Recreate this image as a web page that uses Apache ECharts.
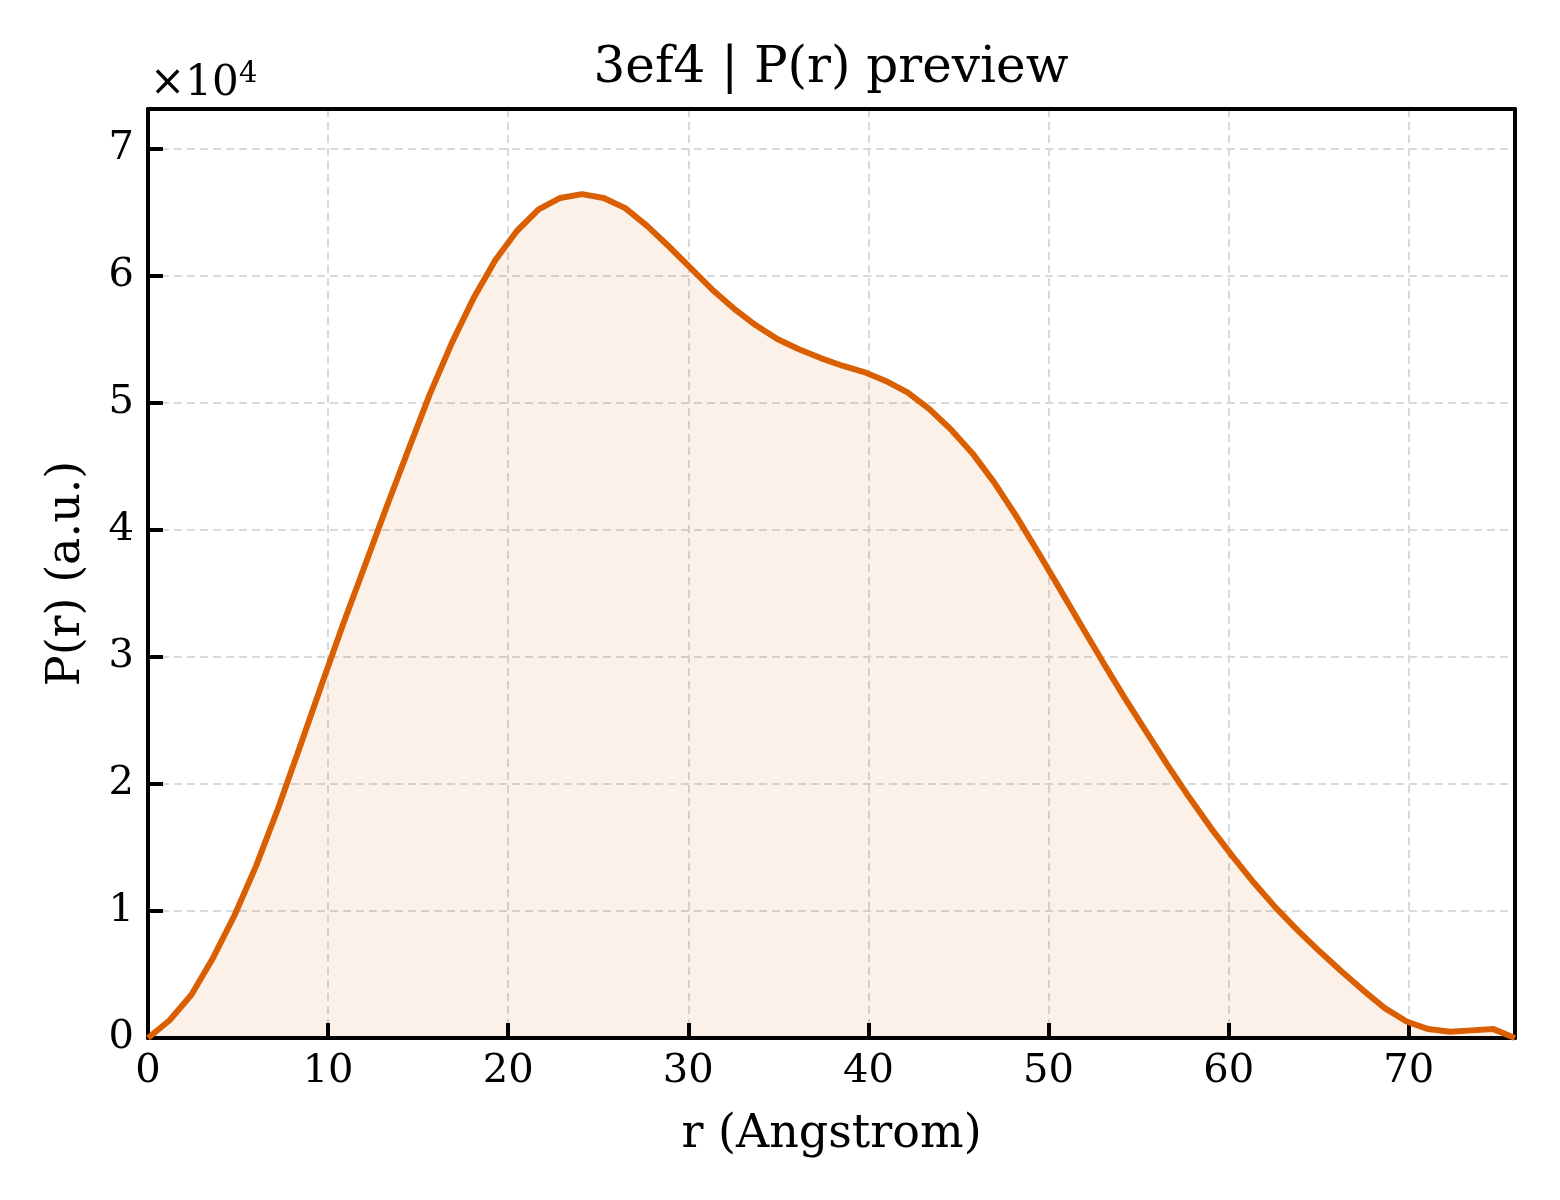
<!DOCTYPE html>
<html>
<head>
<meta charset="utf-8">
<title>3ef4 | P(r) preview</title>
<script src="https://cdn.jsdelivr.net/npm/echarts@6/dist/echarts.min.js"></script>
<style>
  html, body { margin: 0; padding: 0; background: #fff; }
  #main { width: 1560px; height: 1200px; }
</style>
</head>
<body>
<div id="main"></div>
<script>
// r grid (Angstrom)
var rValues = [
	0, 1.20, 2.41, 3.61, 4.82, 6.02, 7.23, 8.43, 9.64, 10.84,
	12.05, 13.25, 14.46, 15.66, 16.87, 18.07, 19.28, 20.48, 21.69, 22.89,
	24.10, 25.30, 26.50, 27.71, 28.91, 30.12, 31.32, 32.53, 33.73, 34.94,
	36.14, 37.35, 38.55, 39.76, 40.96, 42.17, 43.37, 44.57, 45.78, 46.99,
	48.19, 49.39, 50.60, 51.80, 53.01, 54.21, 55.42, 56.62, 57.83, 59.03,
	60.24, 61.44, 62.65, 63.85, 65.06, 66.26, 67.47, 68.67, 69.88, 71.08,
	72.29, 73.49, 74.70, 75.90
];

// P(r) in arbitrary units
var prValues = [
	0, 1400, 3400, 6300, 9700, 13600, 18100, 22900, 27800, 32600,
	37200, 41800, 46300, 50700, 54700, 58200, 61200, 63500, 65200, 66100,
	66400, 66100, 65300, 63900, 62300, 60600, 58900, 57400, 56100, 55000,
	54200, 53500, 52900, 52400, 51700, 50800, 49500, 47900, 46000, 43700,
	41100, 38300, 35400, 32500, 29600, 26800, 24100, 21450, 18900, 16500,
	14250, 12150, 10200, 8450, 6800, 5250, 3750, 2350, 1300, 700,
	500, 600, 700, 0
];

var xTicks = [0, 10, 20, 30, 40, 50, 60, 70];
var yTicks = [0, 1, 2, 3, 4, 5, 6, 7];

var rMax = 75.9;
var pMax = 73100;

var serif = 'DejaVu Serif';

var points = [];
for (var i = 0; i < rValues.length; i++) {
	points.push([rValues[i], prValues[i]]);
}

var myChart = echarts.init(document.getElementById('main'));

// dashed grid lines live on the top/right axes so they sit under the ticks
var gridDash = {
	show: true,
	showMinLine: false,
	showMaxLine: false,
	lineStyle: { color: '#d9d9d9', width: 2, type: [8, 5] }
};
var frameLine = { show: true, onZero: false, lineStyle: { color: '#000', width: 4 } };
var tickIn = { show: true, inside: true, length: 15, lineStyle: { color: '#000', width: 4 } };

var option = {
	backgroundColor: '#fff',
	animation: false,
	grid: { left: 148, right: 45, top: 109, bottom: 162, containLabel: false },
	graphic: [
		{
			type: 'text', x: 831, y: 69,
			style: { text: '3ef4 | P(r) preview', font: '50px "' + serif + '"',
				fill: '#000', textAlign: 'center', textVerticalAlign: 'middle' }
		},
		{
			type: 'text', x: 150, y: 84,
			style: { text: '×10', font: '42px "' + serif + '"',
				fill: '#000', textAlign: 'left', textVerticalAlign: 'middle' }
		},
		{
			type: 'text', x: 239, y: 74,
			style: { text: '4', font: '29px "' + serif + '"',
				fill: '#000', textAlign: 'left', textVerticalAlign: 'middle' }
		}
	],
	xAxis: [
		{
			type: 'value',
			min: 0,
			max: rMax,
			interval: 10,
			z: 3,
			name: 'r (Angstrom)',
			nameLocation: 'middle',
			nameGap: 74,
			nameTextStyle: { fontFamily: serif, fontSize: 46, color: '#000' },
			axisLine: frameLine,
			axisTick: tickIn,
			axisLabel: {
				fontFamily: serif, fontSize: 40, color: '#000', margin: 14,
				showMaxLabel: false,
				formatter: function (v) { return xTicks.indexOf(v) >= 0 ? String(v) : ''; }
			},
			splitLine: { show: false }
		},
		{
			type: 'value', position: 'top', min: 0, max: rMax, interval: 10,
			axisLine: frameLine, axisTick: { show: false },
			axisLabel: { show: false }, splitLine: gridDash
		}
	],
	yAxis: [
		{
			type: 'value',
			min: 0,
			max: pMax,
			interval: 10000,
			z: 3,
			name: 'P(r) (a.u.)',
			nameLocation: 'middle',
			nameGap: 58,
			nameTextStyle: { fontFamily: serif, fontSize: 46, color: '#000' },
			axisLine: frameLine,
			axisTick: tickIn,
			axisLabel: {
				fontFamily: serif, fontSize: 40, color: '#000', margin: 14,
				showMaxLabel: false,
				formatter: function (v) {
					var t = Math.round(v / 10000);
					return yTicks.indexOf(t) >= 0 && v % 10000 === 0 ? String(t) : '';
				}
			},
			splitLine: { show: false }
		},
		{
			type: 'value', position: 'right', min: 0, max: pMax, interval: 10000,
			axisLine: frameLine, axisTick: { show: false },
			axisLabel: { show: false }, splitLine: gridDash
		}
	],
	series: [{
		name: 'P(r)',
		type: 'line',
		xAxisIndex: 0,
		yAxisIndex: 0,
		data: points,
		showSymbol: false,
		smooth: false,
		lineStyle: { color: '#D95F02', width: 6 },
		itemStyle: { color: '#D95F02' },
		areaStyle: { color: 'rgba(217, 95, 2, 0.125)' }
	}]
};
myChart.setOption(option);
</script>
</body>
</html>
